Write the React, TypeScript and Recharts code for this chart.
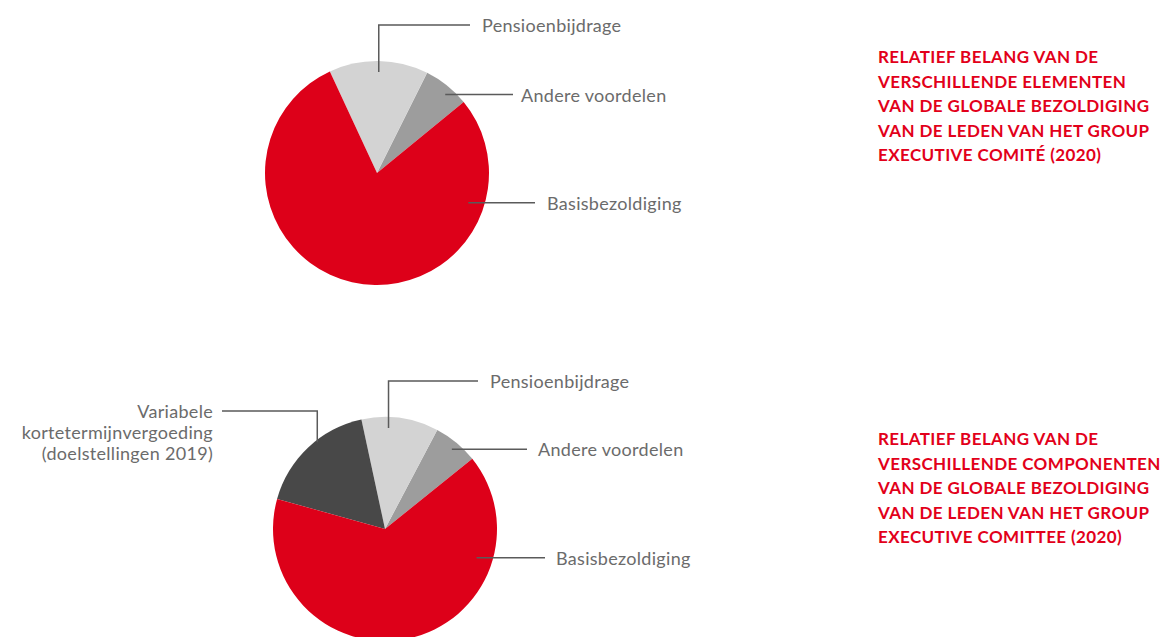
import { PieChart, Pie, Cell } from 'recharts';

// top chart (2020, without variable pay)
const topNames = ['Andere voordelen', 'Pensioenbijdrage', 'Basisbezoldiging'];
const topValues = [6.7, 14.3, 79.0];

// bottom chart (2020, with short term variable pay)
const bottomNames = ['Andere voordelen', 'Pensioenbijdrage', 'Variabele', 'Basisbezoldiging'];
const bottomLabels = [
  'Andere voordelen',
  'Pensioenbijdrage',
  'Variabele\nkortetermijnvergoeding\n(doelstellingen 2019)',
  'Basisbezoldiging',
];
const bottomValues = [6.5, 11.1, 17.3, 65.1];

const topTitle = [
  'RELATIEF BELANG VAN DE',
  'VERSCHILLENDE ELEMENTEN',
  'VAN DE GLOBALE BEZOLDIGING',
  'VAN DE LEDEN VAN HET GROUP',
  'EXECUTIVE COMITÉ (2020)',
];
const bottomTitle = [
  'RELATIEF BELANG VAN DE',
  'VERSCHILLENDE COMPONENTEN',
  'VAN DE GLOBALE BEZOLDIGING',
  'VAN DE LEDEN VAN HET GROUP',
  'EXECUTIVE COMITTEE (2020)',
];

const COLORS: Record<string, string> = {
  'Andere voordelen': '#9d9d9d',
  Pensioenbijdrage: '#d3d3d3',
  Variabele: '#484848',
  Basisbezoldiging: '#dd0019',
};

type LabelPos = { angle: number; r: number; elbowDy?: number; endDx: number; textDx: number };

// leader line layout, relative to pie centre
const topLayout: Record<string, LabelPos> = {
  'Andere voordelen': { angle: 49, r: 104, endDx: 136, textDx: 144 },
  Pensioenbijdrage: { angle: 89, r: 101, elbowDy: -148, endDx: 93, textDx: 105 },
  Basisbezoldiging: { angle: -18, r: 96, endDx: 158, textDx: 170 },
};
const bottomLayout: Record<string, LabelPos> = {
  'Andere voordelen': { angle: 50, r: 104, endDx: 142, textDx: 153 },
  Pensioenbijdrage: { angle: 88, r: 101, elbowDy: -148, endDx: 93, textDx: 105 },
  Variabele: { angle: 128, r: 110, elbowDy: -118, endDx: -163, textDx: -172 },
  Basisbezoldiging: { angle: -17.5, r: 96, endDx: 160, textDx: 171 },
};

const topData = topNames.map((name, i) => ({ name, value: topValues[i], label: name }));
const bottomData = bottomNames.map((name, i) => ({ name, value: bottomValues[i], label: bottomLabels[i] }));

const makeLabel = (layout: Record<string, LabelPos>) => (props: any) => {
  const { cx, cy, payload } = props;
  const name = payload.name as string;
  const l = layout[name];
  const rad = Math.PI / 180;
  const ax = cx + l.r * Math.cos(l.angle * rad);
  const ay = cy - l.r * Math.sin(l.angle * rad);
  const y = l.elbowDy !== undefined ? cy + l.elbowDy : ay;
  const pts: number[][] = [[ax, ay]];
  if (l.elbowDy !== undefined) pts.push([ax, y]);
  pts.push([cx + l.endDx, y]);
  const lines = (payload.label as string).split('\n');
  const anchor = l.textDx < 0 ? 'end' : 'start';
  return (
    <g>
      <polyline points={pts.map((p) => p.join(',')).join(' ')} fill="none" stroke="#5a5a5a" strokeWidth={1.5} />
      <text x={cx + l.textDx} y={y} textAnchor={anchor} dominantBaseline="central" fill="#6b6b6b" fontSize={18} letterSpacing={0.3} fontFamily="Lato">
        {lines.map((t, i) => (
          <tspan key={i} x={cx + l.textDx} dy={i === 0 ? 0 : 21}>{t}</tspan>
        ))}
      </text>
    </g>
  );
};

function Title({ lines, top }: { lines: string[]; top: number }) {
  return (
    <div style={{ position: 'absolute', left: 878, top, color: '#e2001a', fontFamily: 'Lato', fontWeight: 700, fontSize: 17, letterSpacing: 0.4, lineHeight: '24.5px', whiteSpace: 'nowrap' }}>
      {lines.map((t, i) => <div key={i}>{t}</div>)}
    </div>
  );
}

export default function App() {
  return (
    <div style={{ position: 'absolute', left: 0, top: 0, width: 1163, height: 637, background: '#fff', overflow: 'hidden' }}>
      <PieChart width={1163} height={637} margin={{ top: 0, right: 0, bottom: 0, left: 0 }}>
        <Pie
          data={topData}
          dataKey="value"
          nameKey="name"
          cx={377}
          cy={173}
          outerRadius={112}
          startAngle={39.3}
          endAngle={399.3}
          stroke="none"
          label={makeLabel(topLayout)}
          labelLine={false}
          isAnimationActive={false}
        >
          {topData.map((d) => <Cell key={d.name} fill={COLORS[d.name]} />)}
        </Pie>
        <Pie
          data={bottomData}
          dataKey="value"
          nameKey="name"
          cx={385}
          cy={529}
          outerRadius={112}
          startAngle={38.8}
          endAngle={398.8}
          stroke="none"
          label={makeLabel(bottomLayout)}
          labelLine={false}
          isAnimationActive={false}
        >
          {bottomData.map((d) => <Cell key={d.name} fill={COLORS[d.name]} />)}
        </Pie>
      </PieChart>
      <Title lines={topTitle} top={45} />
      <Title lines={bottomTitle} top={427} />
    </div>
  );
}
